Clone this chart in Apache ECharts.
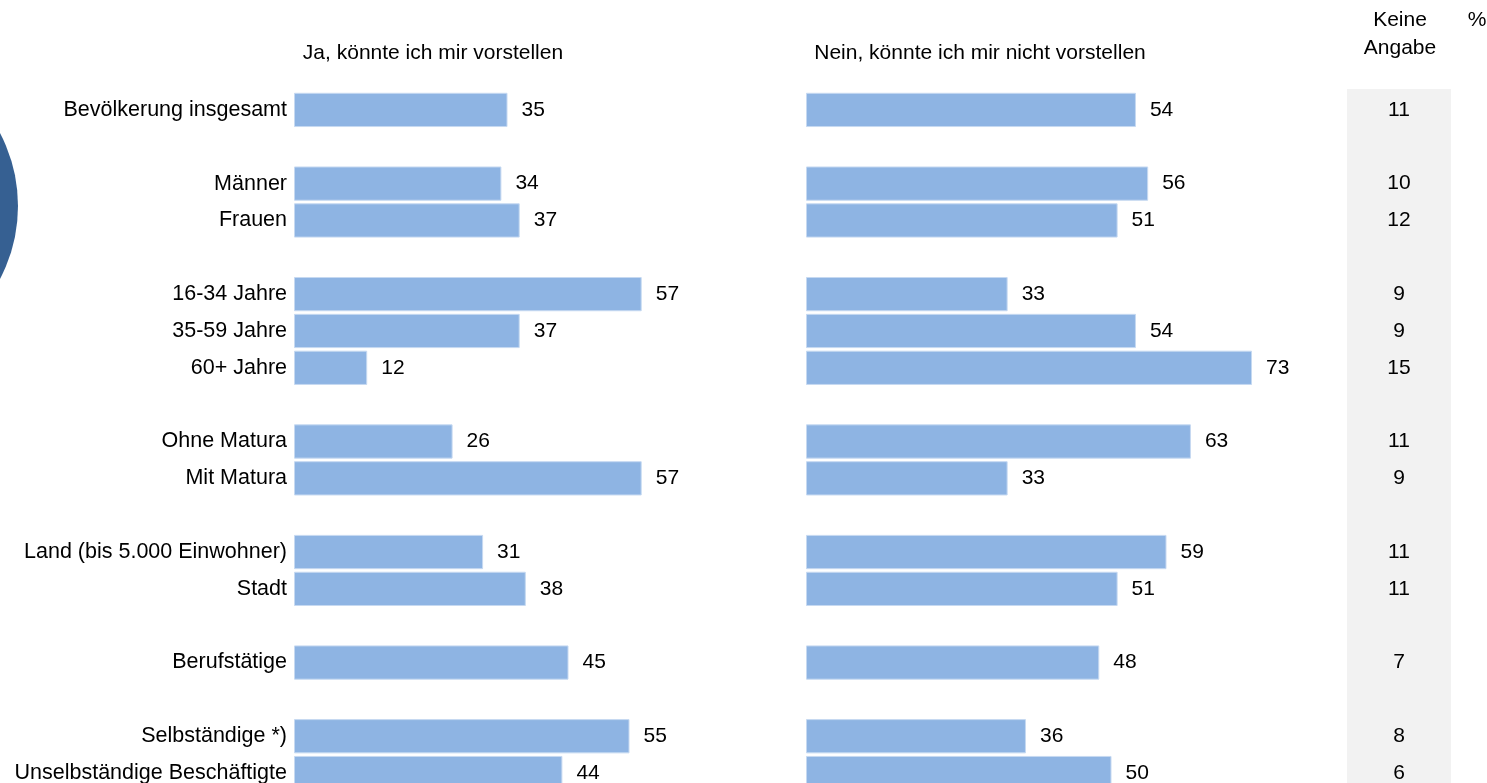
<!DOCTYPE html>
<html>
<head>
<meta charset="utf-8">
<title>Ja, könnte ich mir vorstellen</title>
<script src="https://cdn.jsdelivr.net/npm/echarts@6/dist/echarts.min.js"></script>
<style>
  html, body { margin: 0; padding: 0; background: #ffffff; }
  #chart { width: 1487px; height: 783px; }
</style>
</head>
<body>
<div id="chart"></div>
<script>
// Row labels; empty strings are spacer rows between the groups
const categories = [
  'Bevölkerung insgesamt', '',
  'Männer', 'Frauen', '',
  '16-34 Jahre', '35-59 Jahre', '60+ Jahre', '',
  'Ohne Matura', 'Mit Matura', '',
  'Land (bis 5.000 Einwohner)', 'Stadt', '',
  'Berufstätige', '',
  'Selbständige *)', 'Unselbständige Beschäftigte'
];

// Percentages per row ('-' = spacer row)
const jaValues = [35, '-', 34, 37, '-', 57, 37, 12, '-', 26, 57, '-', 31, 38, '-', 45, '-', 55, 44];
const neinValues = [54, '-', 56, 51, '-', 33, 54, 73, '-', 63, 33, '-', 59, 51, '-', 48, '-', 36, 50];
const keineAngabeValues = [11, '-', 10, 12, '-', 9, 9, 15, '-', 11, 9, '-', 11, 11, '-', 7, '-', 8, 6];

const columnTitles = ['Ja, könnte ich mir vorstellen', 'Nein, könnte ich mir nicht vorstellen', 'Keine\nAngabe', '%'];

const FONT = "'Liberation Sans', Arial, sans-serif";
const BAR_COLOR = '#8EB4E3';
const LABEL_SIZE = 21.5;
const NUMBER_SIZE = 21;

const chart = echarts.init(document.getElementById('chart'), null, { renderer: 'canvas' });

const gridTop = 91.5;
const gridHeight = 700;

function hiddenValueAxis(gridIndex, min, max) {
  return { type: 'value', gridIndex, min, max, show: false, splitLine: { show: false } };
}

function categoryAxis(gridIndex, showLabels) {
  return {
    type: 'category',
    gridIndex,
    data: categories,
    inverse: true,
    axisLine: { show: false },
    axisTick: { show: false },
    splitLine: { show: false },
    axisLabel: {
      show: showLabels,
      interval: 0,
      margin: 7,
      color: '#000',
      fontFamily: FONT,
      fontSize: LABEL_SIZE
    }
  };
}

function barSeries(axisIndex, values) {
  return {
    type: 'bar',
    xAxisIndex: axisIndex,
    yAxisIndex: axisIndex,
    data: values,
    barCategoryGap: '7%',
    itemStyle: { color: BAR_COLOR, borderColor: '#C6D9F1', borderWidth: 1 },
    label: {
      show: true,
      position: 'right',
      distance: 14,
      color: '#000',
      fontFamily: FONT,
      fontSize: NUMBER_SIZE
    },
    emphasis: { disabled: true },
    animation: false
  };
}

const option = {
  backgroundColor: '#ffffff',
  animation: false,
  textStyle: { fontFamily: FONT },
  grid: [
    { left: 294, top: gridTop, width: 610, height: gridHeight, outerBoundsMode: 'none' },
    { left: 806, top: gridTop, width: 611, height: gridHeight, outerBoundsMode: 'none' },
    { left: 1347, top: gridTop, width: 104, height: gridHeight, outerBoundsMode: 'none' }
  ],
  xAxis: [
    hiddenValueAxis(0, 0, 100),
    hiddenValueAxis(1, 0, 100),
    hiddenValueAxis(2, -1, 1)
  ],
  yAxis: [
    categoryAxis(0, true),
    categoryAxis(1, false),
    categoryAxis(2, false)
  ],
  series: [
    barSeries(0, jaValues),
    barSeries(1, neinValues),
    {
      // "Keine Angabe" column: grey band with the values centred in it
      type: 'custom',
      xAxisIndex: 2,
      yAxisIndex: 2,
      data: keineAngabeValues.map((v, i) => [0, i, v === '-' ? null : v]),
      encode: { x: 0, y: 1 },
      clip: false,
      renderItem: function (params, api) {
        const value = api.value(2);
        const center = api.coord([0, api.value(1)]);
        const cs = params.coordSys;
        const children = [];
        if (params.dataIndex === 0) {
          children.push({
            type: 'rect',
            shape: { x: cs.x, y: cs.y - 2.5, width: cs.width, height: cs.height + 2.5 },
            style: { fill: '#F2F2F2' },
            z2: 0
          });
        }
        if (value != null && !isNaN(value)) {
          children.push({
            type: 'text',
            x: center[0],
            y: center[1],
            style: {
              text: String(value),
              fill: '#000',
              font: `${NUMBER_SIZE}px ${FONT}`,
              align: 'center',
              verticalAlign: 'middle'
            },
            z2: 10
          });
        }
        return { type: 'group', children };
      },
      emphasis: { disabled: true },
      silent: true,
      animation: false
    }
  ],
  graphic: [
    {
      type: 'circle',
      shape: { cx: -139, cy: 206, r: 157 },
      style: { fill: '#366092' },
      silent: true
    },
    {
      type: 'text', x: 433, y: 53,
      style: { text: columnTitles[0], fill: '#000', font: `${NUMBER_SIZE}px ${FONT}`, align: 'center', verticalAlign: 'middle' }
    },
    {
      type: 'text', x: 980, y: 53,
      style: { text: columnTitles[1], fill: '#000', font: `${NUMBER_SIZE}px ${FONT}`, align: 'center', verticalAlign: 'middle' }
    },
    {
      type: 'text', x: 1400, y: 34,
      style: { text: columnTitles[2], fill: '#000', font: `${NUMBER_SIZE}px ${FONT}`, align: 'center', verticalAlign: 'middle', lineHeight: 28 }
    },
    {
      type: 'text', x: 1477, y: 20,
      style: { text: columnTitles[3], fill: '#000', font: `${NUMBER_SIZE}px ${FONT}`, align: 'center', verticalAlign: 'middle' }
    }
  ]
};

chart.setOption(option);
</script>
</body>
</html>
